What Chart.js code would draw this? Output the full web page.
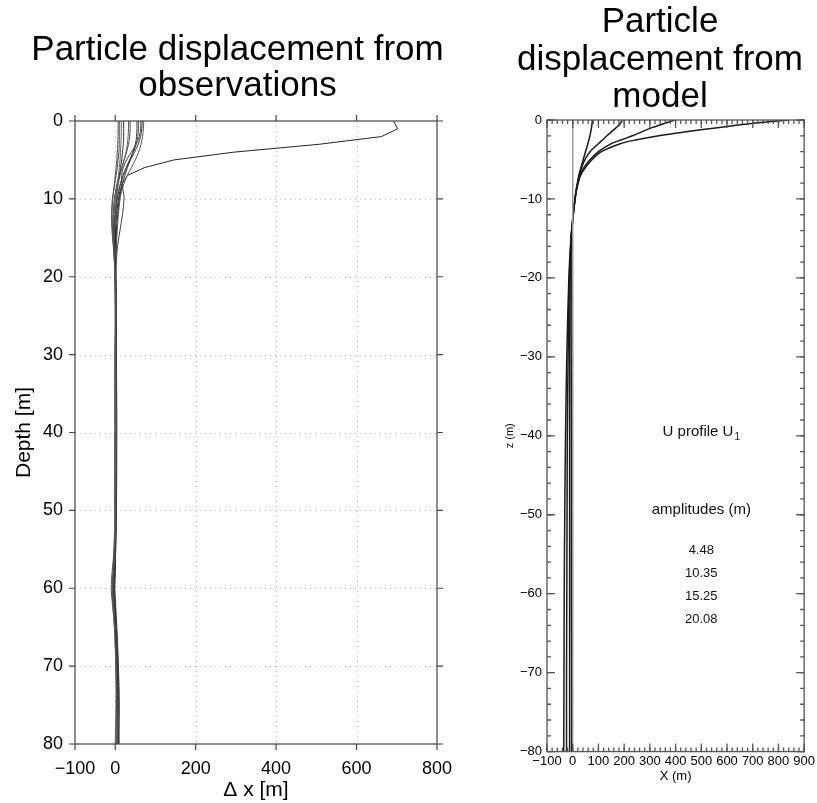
<!DOCTYPE html>
<html><head><meta charset="utf-8">
<script src="https://cdn.jsdelivr.net/npm/chart.js@4.4.1/dist/chart.umd.min.js"></script>
<style>
html,body{margin:0;padding:0;background:#fff;}
body{width:817px;height:803px;position:relative;overflow:hidden;font-family:'Liberation Sans', Arial, Helvetica, sans-serif;}
#c1{position:absolute;left:0;top:0;}
#c2{position:absolute;left:500px;top:0;}
.ttl{position:absolute;text-align:center;font-size:35px;color:#000;white-space:nowrap;}
#t1{left:0;width:475px;top:30px;line-height:36px;}
#t2{left:510px;width:300px;top:1px;line-height:37.5px;}
</style></head><body>
<canvas id="c1" width="475" height="803"></canvas>
<canvas id="c2" width="317" height="803"></canvas>
<div id="t1" class="ttl"></div>
<div id="t2" class="ttl"></div>
<script>
const FONT = "'Liberation Sans', Arial, Helvetica, sans-serif";

// ---------- Left panel: observations ----------
const obsDepths = [0,1,2,3,4,5,6,7,8,9,10,12,14,16,18,20,25,30,40,50,55,58,60,62,65,70,75,80];
const obsA = [7,7,7,6,5,4,2,0,-2,-4,-6,-8,-7,-4,-2,-1,0,1,2,1,-2,-6,-8,-6,-2,2,4,6];
const obsB = [10,10,10,10,9,7,5,2,-1,-4,-7,-9,-8,-5,-2,0,1,2,3,2,0,-4,-6,-4,0,3,5,7];
const obsC = [15,15,15,14,13,12,10,8,5,2,-1,-5,-6,-4,-2,0,1,0,0,-1,-3,-5,-7,-5,-1,1,3,2];
const obsD = [21,21,21,20,18,16,13,10,6,3,0,-3,-4,-2,0,1,2,3,4,3,1,-2,-4,-2,2,5,6,4];
const obsE = [33,33,32,30,27,22,17,12,8,5,3,0,-2,-1,0,2,3,2,1,0,-1,-3,-5,-3,0,3,2,0];
const obsF = [37,37,36,33,28,22,16,10,5,1,-2,-5,-5,-3,-1,0,1,1,2,2,0,-2,-3,-1,2,6,8,10];
const obsG = [54,54,53,50,44,36,28,20,14,9,5,1,-1,-1,0,1,2,2,3,2,1,0,-2,0,3,7,9,8];
const obsH = [58,58,56,52,45,36,27,19,13,8,4,0,-3,-3,-2,0,1,1,1,0,-2,-4,-6,-3,1,4,5,6];
const obsI = [64,63,60,52,40,28,20,16,17,20,22,18,12,6,3,2,2,3,3,2,1,0,-1,1,4,8,10,8];
const obsJ = [67,66,63,57,48,38,30,24,18,14,10,6,3,2,1,1,1,0,0,0,-1,-2,-4,-2,1,4,6,5];
const obsK = [71,70,68,64,58,50,40,30,22,16,12,8,5,3,1,0,0,-1,-1,-1,-3,-8,-10,-7,-2,2,3,2];
const obsOutlier = [692,702,662,505,295,146,72,30,18,12,8,3,1,0,0,1,2,2,1,0,-2,-4,-6,-4,0,3,5,6];
const obsXTicks = [-100,0,200,400,600,800];
const obsYTicks = [0,10,20,30,40,50,60,70,80];
const obsTitle = ['Particle displacement from','observations'];
const obsXLabel = 'Δ x [m]';
const obsYLabel = 'Depth [m]';

// ---------- Right panel: model ----------
const modelDepths = [0,-0.5,-1,-1.5,-2,-2.5,-3,-4,-5,-6,-7,-8,-9,-10,-12,-15,-20,-30,-40,-50,-60,-70,-80];
const modelC1 = [76,75,73,70,67,63,59,50,41,32,24,18,13,9,2,-5,-6,-6,-5,-5,-5,-4,-4];
const modelC2 = [193,184,168,150,133,117,100,68,48,35,25,19,13,9,2,-6,-10,-12,-12,-12,-12,-12,-12];
const modelC3 = [397,350,305,268,232,190,150,100,68,44,28,20,14,9,2,-6,-13,-18,-21,-22,-23,-24,-24];
const modelC4 = [838,680,555,440,335,250,185,112,76,50,31,21,14,9,2,-7,-15,-23,-28,-31,-33,-34,-35];
const zeroLineX = [0,0];
const zeroLineZ = [0,-80];
const modelXTicks = [-100,0,100,200,300,400,500,600,700,800,900];
const modelYTicks = [0,-10,-20,-30,-40,-50,-60,-70,-80];
const modelTitle = ['Particle','displacement from','model'];
const modelXLabel = 'X (m)';
const modelYLabel = 'z (m)';
const profileLabel = 'U profile U';
const profileSub = '1';
const amplitudesLabel = 'amplitudes (m)';
const amplitudes = ['4.48','10.35','15.25','20.08'];

function pts(xs, ys) { return xs.map((x, i) => ({x: x, y: ys[i]})); }
function fmt(v) { return String(v).replace('-', '\u2212'); }
function setTitle(id, lines) {
  const el = document.getElementById(id);
  lines.forEach(l => { const d = document.createElement('div'); d.textContent = l; el.appendChild(d); });
}
setTitle('t1', obsTitle);
setTitle('t2', modelTitle);

function rangeVals(from, to, step) { const r = []; for (let v = from; v <= to + 1e-9; v += step) r.push(Math.round(v * 1000) / 1000); return r; }

// frame / ticks / grid plugin factory (positions come from the chart scales)
function makeFrame(cfg) {
  return {
    id: 'frame_' + Math.random().toString(36).slice(2),
    beforeDatasetsDraw(chart) {
      if (!cfg.grid) return;
      const {ctx, chartArea: a, scales} = chart;
      ctx.save();
      ctx.strokeStyle = cfg.grid.color; ctx.lineWidth = 1; ctx.setLineDash(cfg.grid.dash);
      cfg.grid.x.forEach(v => {
        const p = Math.round(scales.x.getPixelForValue(v)) + 0.5;
        ctx.beginPath(); ctx.moveTo(p, a.top); ctx.lineTo(p, a.bottom); ctx.stroke();
      });
      cfg.grid.y.forEach(v => {
        const p = Math.round(scales.y.getPixelForValue(v)) + 0.5;
        ctx.beginPath(); ctx.moveTo(a.left, p); ctx.lineTo(a.right, p); ctx.stroke();
      });
      ctx.restore();
    },
    afterDatasetsDraw(chart) {
      const {ctx, chartArea: a, scales} = chart;
      ctx.save();
      ctx.strokeStyle = cfg.color; ctx.lineWidth = cfg.width; ctx.setLineDash([]);
      ctx.strokeRect(a.left, a.top, a.right - a.left, a.bottom - a.top);
      cfg.ticks.forEach(t => {
        const sc = scales[t.axis];
        t.values.forEach(v => {
          const p = sc.getPixelForValue(v);
          ctx.beginPath();
          if (t.axis === 'x') {
            ctx.moveTo(p, a.top); ctx.lineTo(p, a.top + (t.out ? -t.len : t.len));
            ctx.moveTo(p, a.bottom); ctx.lineTo(p, a.bottom + (t.out ? t.len : -t.len));
          } else {
            ctx.moveTo(a.left, p); ctx.lineTo(a.left + (t.out ? -t.len : t.len), p);
            ctx.moveTo(a.right, p); ctx.lineTo(a.right + (t.out ? t.len : -t.len), p);
          }
          ctx.stroke();
        });
      });
      ctx.restore();
    }
  };
}

// text annotations in data coordinates
function makeNotes(items) {
  return {
    id: 'notes',
    afterDatasetsDraw(chart) {
      const {ctx, scales} = chart;
      ctx.save();
      ctx.fillStyle = '#111';
      ctx.textBaseline = 'middle';
      ctx.textAlign = 'left';
      items.forEach(it => {
        const x = scales.x.getPixelForValue(it.x);
        const y = scales.y.getPixelForValue(it.y);
        ctx.font = it.size + 'px ' + FONT;
        const w = ctx.measureText(it.text).width;
        let sw = 0;
        if (it.sub) { ctx.font = it.subSize + 'px ' + FONT; sw = ctx.measureText(it.sub).width + 1; }
        const x0 = x - (w + sw) / 2;
        ctx.font = it.size + 'px ' + FONT;
        ctx.fillText(it.text, x0, y);
        if (it.sub) {
          ctx.font = it.subSize + 'px ' + FONT;
          ctx.fillText(it.sub, x0 + w + 1, y + it.size * 0.35);
        }
      });
      ctx.restore();
    }
  };
}

const obsColors = ['#555','#444','#666','#333','#555','#444','#333','#555','#444','#333','#555'];
const obsSeries = [obsA, obsB, obsC, obsD, obsE, obsF, obsG, obsH, obsI, obsJ, obsK];
const obsDatasets = obsSeries.map((s, i) => ({
  data: pts(s, obsDepths), showLine: true, pointRadius: 0, borderWidth: 1,
  borderColor: obsColors[i], tension: 0.35
}));
obsDatasets.push({ data: pts(obsOutlier, obsDepths), showLine: true, pointRadius: 0, borderWidth: 1, borderColor: '#222', tension: 0 });

new Chart(document.getElementById('c1'), {
  type: 'scatter',
  data: { datasets: obsDatasets },
  options: {
    responsive: false, animation: false,
    layout: { padding: { left: 8, right: 38, top: 121, bottom: 0 } },
    plugins: { legend: { display: false }, tooltip: { enabled: false } },
    scales: {
      x: { type: 'linear', min: -100, max: 800,
        afterBuildTicks: s => { s.ticks = obsXTicks.map(v => ({ value: v })); },
        afterFit: s => { s.height = 59; },
        grid: { display: false, drawTicks: false }, border: { display: false },
        ticks: { padding: 14, color: '#000', font: { family: FONT, size: 18 }, callback: fmt, maxRotation: 0, autoSkip: false },
        title: { display: true, text: obsXLabel, color: '#000', font: { family: FONT, size: 21 }, padding: { top: 0, bottom: 0 } } },
      y: { type: 'linear', reverse: true, min: 0, max: 80,
        afterBuildTicks: s => { s.ticks = obsYTicks.map(v => ({ value: v })); },
        afterFit: s => { s.width = 67; },
        grid: { display: false, drawTicks: false }, border: { display: false },
        ticks: { padding: 12, color: '#000', font: { family: FONT, size: 18 }, callback: fmt, autoSkip: false },
        title: { display: true, text: obsYLabel, color: '#000', font: { family: FONT, size: 21 }, padding: { top: 4, bottom: 0 } } }
    }
  },
  plugins: [makeFrame({ color: '#444', width: 1.2,
    grid: { color: '#bbb', dash: [1, 4], x: obsXTicks.slice(1, -1), y: obsYTicks.slice(1, -1) },
    ticks: [ { axis: 'x', values: obsXTicks, len: 6, out: true }, { axis: 'y', values: obsYTicks, len: 6, out: true } ] })]
});

const modelSeries = [modelC1, modelC2, modelC3, modelC4];
const modelDatasets = [{ data: pts(zeroLineX, zeroLineZ), showLine: true, pointRadius: 0, borderWidth: 1, borderColor: '#999' }];
modelSeries.forEach(s => modelDatasets.push({
  data: pts(s, modelDepths), showLine: true, pointRadius: 0, borderWidth: 1.5, borderColor: '#1a1a1a', tension: 0.35
}));

const noteItems = [
  { text: profileLabel, sub: profileSub, x: 500, y: -39.5, size: 15, subSize: 10 },
  { text: amplitudesLabel, x: 500, y: -49.4, size: 15 }
];
const ampZ = [-54.5, -57.4, -60.4, -63.3];
amplitudes.forEach((a, i) => noteItems.push({ text: a, x: 500, y: ampZ[i], size: 13 }));

new Chart(document.getElementById('c2'), {
  type: 'scatter',
  data: { datasets: modelDatasets },
  options: {
    responsive: false, animation: false,
    layout: { padding: { left: 0, right: 11, top: 120, bottom: 19 } },
    plugins: { legend: { display: false }, tooltip: { enabled: false } },
    scales: {
      x: { type: 'linear', min: -100, max: 900,
        afterBuildTicks: s => { s.ticks = modelXTicks.map(v => ({ value: v })); },
        afterFit: s => { s.height = 32.4; },
        grid: { display: false, drawTicks: false }, border: { display: false },
        ticks: { padding: 2, color: '#000', font: { family: FONT, size: 13 }, callback: fmt, maxRotation: 0, autoSkip: false },
        title: { display: true, text: modelXLabel, color: '#000', font: { family: FONT, size: 13 }, padding: { top: 0, bottom: 0 } } },
      y: { type: 'linear', min: -80, max: 0,
        afterBuildTicks: s => { s.ticks = modelYTicks.map(v => ({ value: v })); },
        afterFit: s => { s.width = 47; },
        grid: { display: false, drawTicks: false }, border: { display: false },
        ticks: { padding: 5, color: '#000', font: { family: FONT, size: 13 }, callback: fmt, autoSkip: false },
        title: { display: true, text: modelYLabel, color: '#000', font: { family: FONT, size: 11 }, padding: { top: 3, bottom: 0 } } }
    }
  },
  plugins: [makeFrame({ color: '#555', width: 1.3,
    ticks: [
      { axis: 'x', values: rangeVals(-100, 900, 20), len: 4, out: false },
      { axis: 'x', values: modelXTicks, len: 8, out: false },
      { axis: 'y', values: rangeVals(-80, 0, 2), len: 4, out: false },
      { axis: 'y', values: modelYTicks, len: 8, out: false } ] }), makeNotes(noteItems)]
});
</script>
</body></html>
